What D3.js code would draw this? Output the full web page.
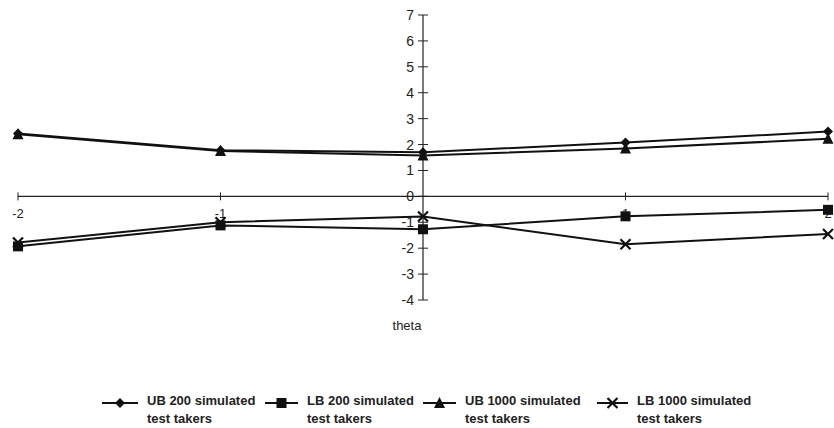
<!DOCTYPE html>
<html><head><meta charset="utf-8">
<script src="https://cdn.jsdelivr.net/npm/d3@7"></script>
<style>body{margin:0;background:#fff}svg{display:block}</style>
</head><body><svg id="c" width="834" height="428"></svg>
<script>
const thetas = [-2, -1, 0, 1, 2];
const ub200 = [2.43, 1.78, 1.7, 2.08, 2.5];
const lb200 = [-1.93, -1.12, -1.27, -0.77, -0.52];
const ub1000 = [2.4, 1.75, 1.58, 1.85, 2.22];
const lb1000 = [-1.78, -1.0, -0.78, -1.85, -1.45];
const yTicks = [-4, -3, -2, -1, 0, 1, 2, 3, 4, 5, 6, 7];
const xTicks = [-2, -1, 0, 1, 2];
const seriesNames = ["UB 200 simulated", "LB 200 simulated", "UB 1000 simulated", "LB 1000 simulated"];
const seriesSub = "test takers";
const markers = ["diamond", "square", "triangle", "x"];

const svg = d3.select("#c");
const x = d3.scaleLinear().domain([-2, 2]).range([18, 828]);
const y = d3.scaleLinear().domain([-4, 7]).range([300, 15]);
const font = "'Liberation Sans', Arial, sans-serif";

// x axis
const xa = svg.append("g").attr("transform", `translate(0,${y(0)})`);
xa.append("line").attr("x1", x(-2)).attr("x2", x(2)).attr("stroke", "#222").attr("stroke-width", 1.2);
xa.selectAll(".xt").data(xTicks.filter(d => d !== 0)).enter().append("line")
  .attr("x1", d => x(d)).attr("x2", d => x(d)).attr("y1", -4).attr("y2", 4)
  .attr("stroke", "#222").attr("stroke-width", 1);
xa.selectAll(".xl").data(xTicks.filter(d => d !== 0)).enter().append("text")
  .attr("x", d => x(d)).attr("y", 22).attr("text-anchor", "middle")
  .attr("font-family", font).attr("font-size", 13).attr("fill", "#222").text(d => d);

// y axis
const ya = svg.append("g").attr("transform", `translate(${x(0)},0)`);
ya.append("line").attr("y1", y(7)).attr("y2", y(-4)).attr("stroke", "#222").attr("stroke-width", 1.2);
ya.selectAll(".yt").data(yTicks).enter().append("line")
  .attr("x1", -5).attr("x2", 5).attr("y1", d => y(d)).attr("y2", d => y(d))
  .attr("stroke", "#222").attr("stroke-width", 1);
ya.selectAll(".yl").data(yTicks).enter().append("text")
  .attr("x", -9).attr("y", d => y(d) + 5).attr("text-anchor", "end")
  .attr("font-family", font).attr("font-size", 14).attr("fill", "#222").text(d => d);

svg.append("text").attr("x", x(0) - 16).attr("y", 330).attr("text-anchor", "middle")
  .attr("font-family", font).attr("font-size", 13).attr("fill", "#222").text("theta");

function drawMarker(g, type, cx, cy) {
  if (type === "diamond") {
    g.append("path").attr("d", `M${cx},${cy-5}L${cx+5},${cy}L${cx},${cy+5}L${cx-5},${cy}Z`).attr("fill", "#111");
  } else if (type === "square") {
    g.append("rect").attr("x", cx - 5).attr("y", cy - 5).attr("width", 10).attr("height", 10).attr("fill", "#111");
  } else if (type === "triangle") {
    g.append("path").attr("d", `M${cx},${cy-6}L${cx+5.5},${cy+5}L${cx-5.5},${cy+5}Z`).attr("fill", "#111");
  } else {
    g.append("path").attr("d", `M${cx-5},${cy-5}L${cx+5},${cy+5}M${cx+5},${cy-5}L${cx-5},${cy+5}`)
      .attr("stroke", "#111").attr("stroke-width", 2.2);
  }
}

const allSeries = [ub200, lb200, ub1000, lb1000];
const line = d3.line().x((d, i) => x(thetas[i])).y(d => y(d));
allSeries.forEach((s, k) => {
  const g = svg.append("g");
  g.append("path").datum(s).attr("d", line).attr("fill", "none").attr("stroke", "#111").attr("stroke-width", 2);
  s.forEach((v, i) => drawMarker(g, markers[k], x(thetas[i]), y(v)));
});

// legend
const legX = [102, 265, 423, 597];
const legLen = [36, 33, 33, 31];
const lfont = "'Liberation Sans Narrow', 'Liberation Sans', Arial, sans-serif";
seriesNames.forEach((name, k) => {
  const g = svg.append("g");
  const lx = legX[k], ly = 403;
  g.append("line").attr("x1", lx).attr("x2", lx + legLen[k]).attr("y1", ly).attr("y2", ly).attr("stroke", "#111").attr("stroke-width", 2);
  drawMarker(g, markers[k], lx + legLen[k] / 2, ly);
  const tx = lx + legLen[k] + 9;
  g.append("text").attr("x", tx).attr("y", 405).attr("font-family", lfont).attr("font-weight", "bold")
    .attr("font-size", 13).attr("fill", "#222").text(name);
  g.append("text").attr("x", tx).attr("y", 423).attr("font-family", lfont).attr("font-weight", "bold")
    .attr("font-size", 13).attr("fill", "#222").text(seriesSub);
});
</script></body></html>
